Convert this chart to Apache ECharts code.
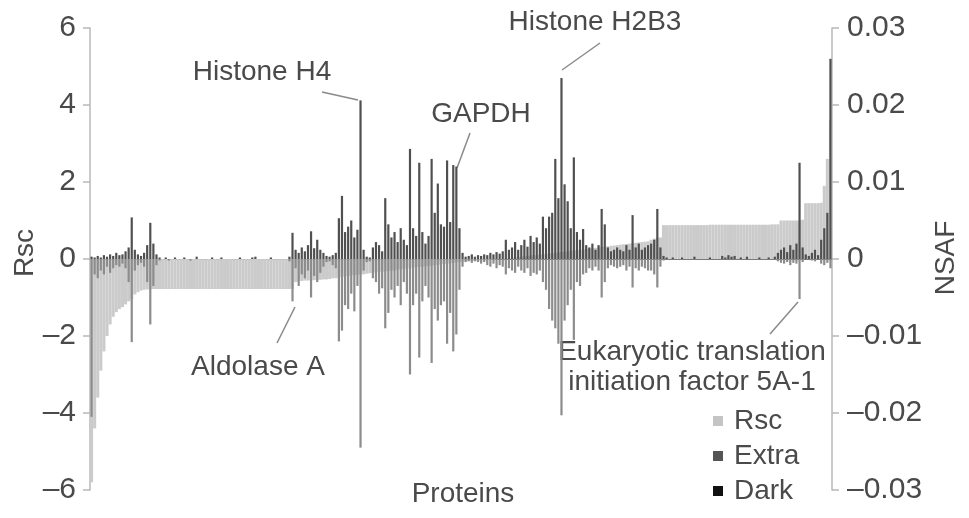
<!DOCTYPE html>
<html><head><meta charset="utf-8">
<script src="https://cdn.jsdelivr.net/npm/echarts@6/dist/echarts.min.js"></script>
<style>html,body{margin:0;padding:0;background:#fff}#c{width:969px;height:518px}</style>
</head><body><div id="c"></div>
<script>
// Rsc per protein (left axis)
const rscValues = [
-5.8,-4.4,-3.6,-2.9,-2.4,-2.0,-1.7,-1.5,-1.38,-1.3,
-1.25,-1.18,-1.1,-1.05,-0.92,-0.86,-0.82,-0.8,-0.79,-0.79,
-0.78,-0.78,-0.78,-0.78,-0.78,-0.78,-0.78,-0.78,-0.78,-0.78,
-0.78,-0.78,-0.78,-0.78,-0.78,-0.78,-0.78,-0.78,-0.78,-0.78,
-0.78,-0.78,-0.78,-0.78,-0.78,-0.78,-0.78,-0.78,-0.78,-0.78,
-0.78,-0.78,-0.78,-0.78,-0.78,-0.78,-0.78,-0.78,-0.78,-0.78,
-0.78,-0.78,-0.78,-0.78,-0.78,-0.77,-0.6,-0.58,-0.57,-0.56,
-0.56,-0.55,-0.55,-0.54,-0.54,-0.53,-0.53,-0.52,-0.5,-0.5,
-0.48,-0.46,-0.45,-0.44,-0.42,-0.42,-0.41,-0.4,-0.4,-0.38,
-0.37,-0.36,-0.35,-0.33,-0.33,-0.32,-0.31,-0.3,-0.3,-0.28,
-0.27,-0.26,-0.25,-0.24,-0.22,-0.21,-0.2,-0.2,-0.19,-0.18,
-0.17,-0.16,-0.15,-0.14,-0.13,-0.12,-0.11,-0.1,-0.09,-0.08,
-0.07,-0.06,-0.05,-0.05,-0.04,-0.04,-0.03,-0.03,-0.02,-0.02,
-0.01,-0.01,0,0,0.01,0.02,0.03,0.04,0.05,0.06,
0.07,0.08,0.09,0.1,0.1,0.11,0.12,0.13,0.14,0.15,
0.16,0.17,0.18,0.19,0.2,0.21,0.22,0.23,0.24,0.25,
0.26,0.27,0.28,0.29,0.3,0.31,0.32,0.33,0.34,0.35,
0.36,0.37,0.38,0.39,0.4,0.41,0.42,0.43,0.44,0.45,
0.46,0.5,0.53,0.55,0.56,0.88,0.88,0.88,0.88,0.88,
0.88,0.88,0.88,0.88,0.88,0.88,0.88,0.88,0.88,0.88,
0.89,0.89,0.89,0.89,0.89,0.89,0.89,0.89,0.89,0.89,
0.89,0.89,0.89,0.89,0.89,0.89,0.89,0.89,0.89,0.89,
0.9,0.9,0.9,1.0,1.0,1.0,1.0,1.0,1.0,1.0,
1.02,1.45,1.45,1.45,1.45,1.45,1.46,1.9,2.6,3.6
];
// NSAF, Dark (drawn upward, right axis)
const darkNsaf = [
0.0003,0.0002,0.0004,0.0002,0.0005,0.0003,0.0006,0.0004,0.0008,0.0005,
0.0006,0.001,0.0015,0.0054,0.0012,0.0006,0.0004,0.0008,0.0018,0.0047,
0.002,0.0006,0.0002,0,0.0002,0,0,0.0002,0,0,
0.0002,0,0,0,0.0003,0,0,0,0,0.0002,
0,0,0.0002,0,0,0,0,0,0.0002,0,
0,0,0.0002,0.0003,0,0,0,0,0.0002,0,
0,0,0,0,0.0003,0.0034,0.0012,0.0008,0.0015,0.001,
0.0018,0.0036,0.0014,0.0025,0.0012,0.0008,0.0004,0.0003,0.0005,0.0008,
0.0053,0.0082,0.0035,0.0042,0.005,0.0028,0.0038,0.0206,0.0012,0.0003,
0.0002,0.0015,0.0022,0.0018,0.001,0.0079,0.0045,0.0028,0.0035,0.0022,
0.004,0.0025,0.0018,0.0143,0.004,0.003,0.0125,0.0035,0.002,0.003,
0.013,0.006,0.0098,0.0045,0.0042,0.0128,0.0048,0.0122,0.012,0.004,
0.0008,0.0003,0.0004,0.0006,0.0003,0.0005,0.0004,0.0006,0.0005,0.0008,
0.0006,0.0009,0.0007,0.001,0.0025,0.0012,0.0015,0.0022,0.0012,0.0018,
0.0025,0.0016,0.003,0.0022,0.0028,0.002,0.0055,0.004,0.0055,0.006,
0.013,0.0079,0.0235,0.0097,0.0075,0.004,0.0132,0.0035,0.0025,0.0039,
0.0018,0.0015,0.002,0.0012,0.0018,0.0065,0.0045,0.0015,0.001,0.0012,
0.0015,0.0012,0.001,0.0018,0.0012,0.0057,0.0015,0.002,0.0012,0.0015,
0.0018,0.002,0.0025,0.0065,0.0015,0.0004,0.0002,0,0.0002,0,
0,0.0002,0,0,0,0.0003,0,0,0,0,
0.0002,0,0,0,0.0004,0.0002,0.0005,0.0003,0.0004,0,
0.0002,0,0.0003,0,0,0,0.0002,0,0,0.0002,
0,0.0003,0.0008,0.0012,0.0015,0.0009,0.0018,0.0012,0.002,0.0125,
0.0015,0.0006,0.0004,0.0008,0.0012,0.0005,0.0025,0.004,0.006,0.026
];
// NSAF, Extra (drawn downward, right axis)
const extraNsaf = [
-0.0205,-0.002,-0.0025,-0.0015,-0.002,-0.001,-0.0018,-0.0012,-0.0008,-0.001,
-0.0006,-0.0012,-0.003,-0.0108,-0.0015,-0.0008,-0.0005,-0.001,-0.003,-0.0085,
-0.0035,-0.0008,-0.0002,0,0,-0.0002,0,0,0,0,
0,0,-0.0002,0,0,0,0,0,0,0,
0,0,0,0,0,0,0,0,0,0,
0,0,0,0,0,0,0,0,0,0,
0,0,0,0,-0.0003,-0.0055,-0.0012,-0.0035,-0.002,-0.0025,
-0.0015,-0.005,-0.0022,-0.003,-0.0018,-0.001,-0.0004,-0.0003,-0.0008,-0.0012,
-0.0107,-0.0093,-0.006,-0.0065,-0.0045,-0.0068,-0.0035,-0.0245,-0.0015,-0.0004,
-0.0003,-0.0025,-0.003,-0.0045,-0.0038,-0.009,-0.007,-0.004,-0.005,-0.0035,
-0.006,-0.003,-0.0045,-0.015,-0.006,-0.0045,-0.0128,-0.0055,-0.0035,-0.005,
-0.0135,-0.0065,-0.008,-0.006,-0.0055,-0.011,-0.007,-0.012,-0.0098,-0.004,
-0.001,-0.0004,-0.0003,-0.0005,-0.0003,-0.0004,-0.0006,-0.0004,-0.0008,-0.001,
-0.0006,-0.0012,-0.0008,-0.001,-0.002,-0.0012,-0.0015,-0.0018,-0.001,-0.0015,
-0.0018,-0.0012,-0.0022,-0.0018,-0.002,-0.0015,-0.003,-0.004,-0.0065,-0.008,
-0.009,-0.011,-0.0203,-0.008,-0.006,-0.004,-0.0105,-0.003,-0.0035,-0.002,
-0.0018,-0.0012,-0.0015,-0.001,-0.0015,-0.005,-0.003,-0.0012,-0.0008,-0.001,
-0.0012,-0.001,-0.0008,-0.0015,-0.001,-0.0037,-0.0012,-0.0015,-0.001,-0.0012,
-0.0015,-0.0015,-0.002,-0.0037,-0.001,-0.0002,0,0,0,0,
0,0,0,0,0,0,0,0,0,0,
0,0,0,0,0,0,0,0,0,0,
0,0,0,0,0,0,0,0,0,0,
0,0,-0.0003,-0.0005,-0.0006,-0.0004,-0.0008,-0.0005,-0.0006,-0.0052,
-0.0004,0,0,-0.0002,-0.0003,0,-0.0006,-0.0008,-0.0005,-0.0012
];
const proteins = rscValues.map((_, i) => 'P' + (i + 1));
const seriesNames = ['Rsc', 'Extra', 'Dark'];

const FONT = 'Liberation Sans, Arial, sans-serif';
const TXT = '#4a4a4a';
const AX = '#b8b8b8';
const minus = s => s.replace('-', '\u2013');

const chart = echarts.init(document.getElementById('c'), null, {renderer: 'canvas'});
const lbl = (text, x, y, extra) => Object.assign({
  type: 'text', x, y, silent: true,
  style: {text, fill: TXT, fontSize: 28, fontFamily: FONT, align: 'center', verticalAlign: 'middle', textAlign: 'center', textVerticalAlign: 'middle'}
}, extra || {});
const lead = (x1, y1, x2, y2) => ({type: 'line', silent: true, shape: {x1, y1, x2, y2}, style: {stroke: '#8a8a8a', lineWidth: 1.5}});

chart.setOption({
  animation: false,
  backgroundColor: '#fff',
  grid: {left: 90, right: 137, top: 28, bottom: 28, containLabel: false, outerBoundsMode: 'none'},
  legend: {
    orient: 'vertical', left: 708, top: 402, padding: 5,
    itemWidth: 10, itemHeight: 10, itemGap: 7, icon: 'rect',
    data: [
      {name: seriesNames[0], itemStyle: {color: '#c4c4c4'}},
      {name: seriesNames[1], itemStyle: {color: '#555555'}},
      {name: seriesNames[2], itemStyle: {color: '#111111'}}
    ],
    textStyle: {fontSize: 28, fontFamily: FONT, color: TXT, lineHeight: 28, padding: [0, 0, 0, 6]}
  },
  xAxis: [
    {type: 'category', data: proteins, boundaryGap: true,
     axisLine: {show: true, onZero: true, onZeroAxisIndex: 0, lineStyle: {color: '#7a7a7a', width: 1}},
     axisTick: {show: false}, axisLabel: {show: false}, splitLine: {show: false}},
    {type: 'category', data: proteins, boundaryGap: true, show: false,
     axisLine: {show: false}, axisTick: {show: false}, axisLabel: {show: false}}
  ],
  yAxis: [
    {type: 'value', min: -6, max: 6, interval: 2, position: 'left',
     axisLine: {show: true, lineStyle: {color: AX, width: 1.5}},
     axisTick: {show: true, inside: false, length: 7, lineStyle: {color: AX, width: 1.5}},
     axisLabel: {margin: 14, fontSize: 30, fontFamily: FONT, color: TXT, formatter: v => v === 0 ? '0' : minus(String(v))},
     splitLine: {show: false}},
    {type: 'value', min: -0.03, max: 0.03, interval: 0.01, position: 'right',
     axisLine: {show: true, lineStyle: {color: AX, width: 1.5}},
     axisTick: {show: true, inside: false, length: 7, lineStyle: {color: AX, width: 1.5}},
     axisLabel: {margin: 15, fontSize: 30, fontFamily: FONT, color: TXT,
       formatter: v => Math.abs(v) < 1e-9 ? '0' : (v < 0 ? '\u2013' : '') + Math.abs(v).toFixed(2)},
     splitLine: {show: false}}
  ],
  series: [
    {name: 'Rsc', type: 'bar', xAxisIndex: 0, yAxisIndex: 0, data: rscValues,
     barCategoryGap: '0%', itemStyle: {color: '#cbcbcb'}, z: 1},
    {name: 'Extra', type: 'bar', xAxisIndex: 1, yAxisIndex: 1, data: extraNsaf,
     barWidth: 2.2, barGap: '-100%', itemStyle: {color: '#8c8c8c'}, z: 3},
    {name: 'Dark', type: 'bar', xAxisIndex: 1, yAxisIndex: 1, data: darkNsaf,
     barWidth: 2.2, barGap: '-100%', itemStyle: {color: '#505050'}, z: 4}
  ],
  graphic: [
    lbl('Rsc', 25, 253, {rotation: Math.PI / 2}),
    lbl('NSAF', 946, 258, {rotation: Math.PI / 2}),
    lbl('Proteins', 463, 494),
    lbl('Histone H4', 262, 72),
    lead(322, 92, 358, 100),
    lbl('GAPDH', 481, 114),
    lead(470, 133, 457, 168),
    lbl('Histone H2B3', 595, 22),
    lead(600, 43, 562, 70),
    lbl('Aldolase A', 258, 367),
    lead(277, 343, 295, 307),
    lbl('Eukaryotic translation', 692, 352),
    lbl('initiation factor 5A-1', 692, 382),
    lead(798, 302, 770, 334)
  ]
});
</script>
</body></html>
